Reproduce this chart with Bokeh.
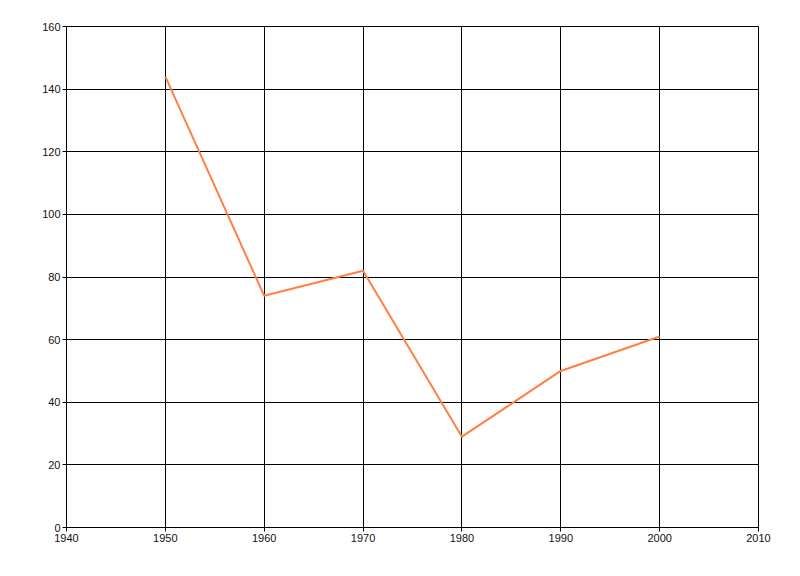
import numpy as np
from bokeh.plotting import figure
from bokeh.models import Range1d, FixedTicker
from bokeh.embed import file_html
from bokeh.resources import INLINE

# Data
years = [1950, 1960, 1970, 1980, 1990, 2000]
values = [144, 74, 82, 29, 50, 61]

x_ticks = [1940, 1950, 1960, 1970, 1980, 1990, 2000, 2010]
y_ticks = [0, 20, 40, 60, 80, 100, 120, 140, 160]

p = figure(
    width=792, height=568,
    x_range=Range1d(1940, 2010), y_range=Range1d(0, 160),
    output_backend="svg", toolbar_location=None,
    min_border_left=66, min_border_right=34,
    min_border_top=26, min_border_bottom=41,
)
p.outline_line_color = "black"
p.outline_line_width = 1

p.xaxis.ticker = FixedTicker(ticks=x_ticks)
p.yaxis.ticker = FixedTicker(ticks=y_ticks)

for ax in (p.xaxis, p.yaxis):
    ax.axis_line_color = "black"
    ax.major_tick_line_color = "black"
    ax.major_tick_out = 4
    ax.major_tick_in = 0
    ax.minor_tick_line_color = None
    ax.major_label_text_font = "Liberation Sans"
    ax.major_label_text_font_size = "11px"
    ax.major_label_text_color = "#111111"
    ax.major_label_standoff = 2

p.xgrid.grid_line_color = "black"
p.ygrid.grid_line_color = "black"
p.xgrid.grid_line_alpha = 1.0
p.ygrid.grid_line_alpha = 1.0

p.line(years, values, line_color="#FF7F45", line_width=2)

open("out.html", "w").write(file_html(p, INLINE))
